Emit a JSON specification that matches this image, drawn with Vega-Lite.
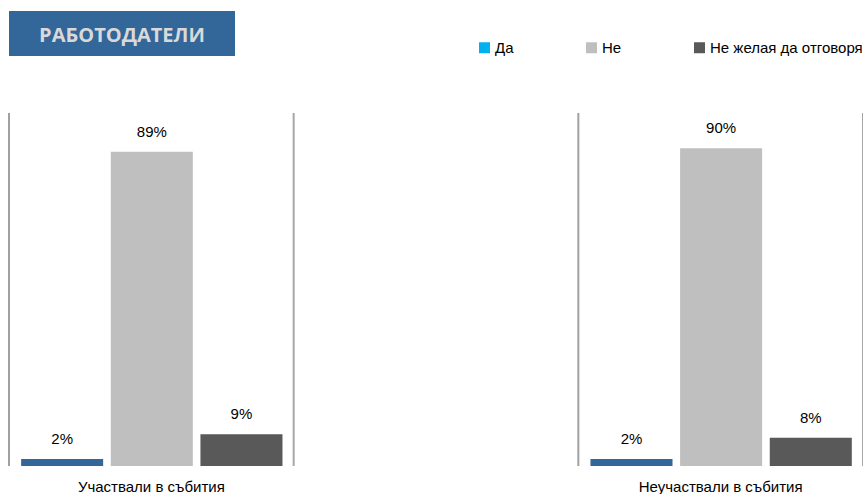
{
  "$schema": "https://vega.github.io/schema/vega-lite/v6.json",
  "padding": {"left": 8, "top": 11, "right": 0, "bottom": 0},
  "background": "white",
  "bounds": "flush",
  "spacing": 57,
  "config": {
    "view": {"stroke": null},
    "font": "Liberation Sans",
    "axisX": {"labelFont": "Liberation Sans", "labelFontSize": 15, "labelColor": "#000000", "labelPadding": 13, "ticks": false, "domain": false, "grid": false, "labelAngle": 0}
  },
  "vconcat": [
    {
      "width": 226,
      "height": 45,
      "view": {"fill": "#336699", "stroke": null},
      "data": {"values": [{"t": "РАБОТОДАТЕЛИ"}]},
      "mark": {"type": "text", "font": "Open Sans", "fontSize": 20, "fontWeight": "bold", "color": "#D9D9D9", "baseline": "alphabetic", "dy": 8.5},
      "encoding": {"text": {"field": "t", "type": "nominal"}}
    },
    {
      "width": 854,
      "height": 353,
      "layer": [
        {
          "data": {"values": [{"group": "Участвали в събития"}, {"group": "Неучаствали в събития"}]},
          "mark": {"type": "rule", "color": "#a0a0a0", "strokeWidth": 2},
          "encoding": {
            "x": {"field": "group", "type": "nominal", "bandPosition": 0, "sort": ["Участвали в събития", "Неучаствали в събития"], "scale": {"paddingInner": 0.5, "paddingOuter": 0}, "axis": {"title": null}},
            "y": {"datum": 0, "type": "quantitative", "scale": {"domain": [0, 1], "nice": false}, "axis": null},
            "y2": {"datum": 1}
          }
        },
        {
          "data": {"values": [{"group": "Участвали в събития"}, {"group": "Неучаствали в събития"}]},
          "mark": {"type": "rule", "color": "#a6a6a6", "strokeWidth": 2},
          "encoding": {
            "x": {"field": "group", "type": "nominal", "bandPosition": 1, "sort": ["Участвали в събития", "Неучаствали в събития"], "axis": {"title": null}},
            "y": {"datum": 0, "type": "quantitative", "axis": null},
            "y2": {"datum": 1}
          }
        },
        {
          "data": {"values": [
            {"group": "Участвали в събития", "answer": "Да", "value": 0.02},
            {"group": "Участвали в събития", "answer": "Не", "value": 0.89},
            {"group": "Участвали в събития", "answer": "Не желая да отговоря", "value": 0.09},
            {"group": "Неучаствали в събития", "answer": "Да", "value": 0.02},
            {"group": "Неучаствали в събития", "answer": "Не", "value": 0.90},
            {"group": "Неучаствали в събития", "answer": "Не желая да отговоря", "value": 0.08}
          ]},
          "resolve": {"scale": {"color": "independent"}},
          "layer": [
            {
              "mark": {"type": "bar"},
              "encoding": {
                "x": {"field": "group", "type": "nominal", "sort": ["Участвали в събития", "Неучаствали в събития"], "axis": {"title": null}},
                "xOffset": {"field": "answer", "type": "nominal", "sort": ["Да", "Не", "Не желая да отговоря"], "scale": {"paddingInner": 0.085, "paddingOuter": 0.13, "align": 0.52}},
                "y": {"field": "value", "type": "quantitative", "axis": null},
                "color": {
                  "field": "answer", "type": "nominal",
                  "scale": {"domain": ["Да", "Не", "Не желая да отговоря"], "range": ["#336699", "#BFBFBF", "#595959"]},
                  "legend": null
                }
              }
            },
            {
              "mark": {"type": "bar"},
              "encoding": {
                "x": {"field": "group", "type": "nominal", "sort": ["Участвали в събития", "Неучаствали в събития"], "axis": {"title": null}},
                "xOffset": {"field": "answer", "type": "nominal", "sort": ["Да", "Не", "Не желая да отговоря"]},
                "y": {"datum": 0, "type": "quantitative", "axis": null},
                "color": {
                  "field": "answer", "type": "nominal",
                  "scale": {"domain": ["Да", "Не", "Не желая да отговоря"], "range": ["#00B0F0", "#BFBFBF", "#595959"]},
                  "legend": {
                    "orient": "none", "legendX": 468, "legendY": -73, "direction": "horizontal", "title": null,
                    "symbolType": "square", "symbolSize": 121, "symbolStrokeWidth": 0,
                    "labelFont": "Liberation Sans", "labelFontSize": 15, "labelColor": "#000000",
                    "columnPadding": 70, "labelOffset": 3, "padding": 0
                  }
                }
              }
            },
            {
              "mark": {"type": "text", "baseline": "alphabetic", "dy": -15, "fontSize": 15, "font": "Liberation Sans", "color": "#000000"},
              "encoding": {
                "x": {"field": "group", "type": "nominal", "sort": ["Участвали в събития", "Неучаствали в събития"], "axis": {"title": null}},
                "xOffset": {"field": "answer", "type": "nominal", "sort": ["Да", "Не", "Не желая да отговоря"]},
                "y": {"field": "value", "type": "quantitative", "axis": null},
                "text": {"field": "value", "type": "quantitative", "format": ".0%"}
              }
            }
          ]
        }
      ]
    }
  ]
}
